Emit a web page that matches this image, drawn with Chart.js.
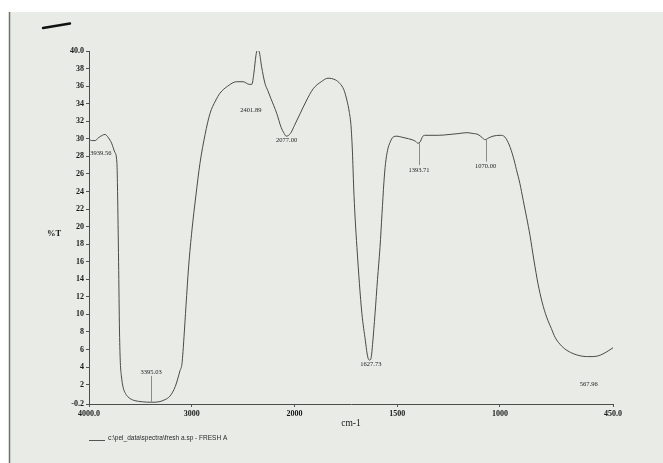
<!DOCTYPE html>
<html>
<head>
<meta charset="utf-8">
<script src="https://cdn.jsdelivr.net/npm/chart.js@4.4.1/dist/chart.umd.min.js"></script>
<style>
    html, body { margin: 0; padding: 0; background: #ffffff; }
    #wrap { position: relative; width: 663px; height: 463px; }
</style>
</head>
<body>
<div id="wrap"><canvas id="spectrum" width="663" height="463"></canvas></div>
<script>
// Spectrum (wavenumber in cm-1, transmittance in %T)
const wavenumbers = [
    4000, 3975, 3940, 3910, 3870, 3845, 3810, 3780, 3750, 3728,
    3722, 3712, 3703, 3695, 3685, 3668, 3645, 3620, 3590, 3560,
    3480, 3395, 3320, 3260, 3212, 3160, 3114, 3095, 3075, 3056,
    3030, 2998, 2960, 2920, 2870, 2822, 2770, 2725, 2650, 2565,
    2500, 2440, 2415, 2395, 2375, 2362, 2343, 2320, 2287, 2260,
    2230, 2173, 2130, 2100, 2081, 2040, 2001, 1972, 1943, 1909,
    1870, 1837, 1800, 1779, 1760, 1745, 1733, 1725, 1718, 1712,
    1705, 1696, 1684, 1672, 1655, 1647, 1640, 1633, 1626, 1620,
    1608, 1596, 1584, 1574, 1565, 1557, 1547, 1535, 1520, 1501,
    1480, 1462, 1428, 1410, 1399, 1390, 1375, 1365, 1300, 1243,
    1200, 1161, 1130, 1107, 1085, 1073, 1055, 1034, 1000, 976,
    955, 935, 920, 903, 887, 870, 854, 835, 815, 795,
    773, 750, 732, 700, 674, 640, 611, 580, 547, 520,
    499, 470, 450
];
const transmittance = [
    30.0, 29.8, 29.8, 30.1, 30.4, 30.5, 30.1, 29.5, 28.5, 27.2,
    24.0, 16.0, 8.0, 4.5, 3.0, 1.7, 1.0, 0.6, 0.35, 0.2,
    0.05, 0.0, 0.05, 0.3, 0.7, 1.8, 3.6, 4.4, 7.5, 11.0,
    15.5, 19.6, 23.5, 27.2, 30.5, 32.9, 34.3, 35.2, 36.0, 36.5,
    36.5, 36.2, 36.2, 37.5, 39.5, 40.1, 39.9, 38.2, 36.3, 35.5,
    34.6, 32.9, 31.3, 30.6, 30.3, 30.6, 31.5, 32.9, 34.3, 35.7,
    36.5, 36.9, 36.7, 36.3, 35.6, 34.4, 33.0, 31.5, 28.5, 24.5,
    21.0, 17.6, 13.5, 10.1, 7.0, 5.6, 4.9, 4.8, 5.2, 6.6,
    10.1, 14.0, 17.6, 21.5, 25.0, 27.2, 28.7, 29.6, 30.2, 30.3,
    30.2, 30.1, 29.9, 29.7, 29.5, 29.6, 30.3, 30.4, 30.4, 30.5,
    30.6, 30.7, 30.6, 30.5, 30.1, 29.9, 30.1, 30.3, 30.4, 30.2,
    29.3, 27.9, 26.5, 24.9, 23.0, 21.0, 19.0, 16.2, 13.5, 11.4,
    9.7, 8.4, 7.4, 6.4, 5.9, 5.5, 5.3, 5.2, 5.2, 5.3,
    5.5, 5.9, 6.2
];

const xTickValues = [4000, 3000, 2000, 1500, 1000, 450];
const xTickLabels = ['4000.0', '3000', '2000', '1500', '1000', '450.0'];
const yTickValues = [-0.2, 2, 4, 6, 8, 10, 12, 14, 16, 18, 20, 22, 24, 26, 28, 30, 32, 34, 36, 38, 40];
const yTickLabels = ['-0.2', '2', '4', '6', '8', '10', '12', '14', '16', '18', '20', '22', '24', '26', '28', '30', '32', '34', '36', '38', '40.0'];

// Peak picks printed on the spectrum
const peakLabels = ['3939.56', '3395.03', '2401.89', '2077.00', '1627.73', '1393.71', '1070.00', '567.96'];
const peakLabelX = [3885, 3395, 2424, 2077, 1628, 1394, 1070, 568];
const peakLabelY = [28.35, 3.45, 33.25, 29.8, 4.35, 26.4, 26.85, 2.1];
const peakMarkFrom = [null, 0.0, null, null, null, 29.5, 29.9, null];
const peakMarkTo = [null, 3.0, null, null, null, 27.0, 27.4, null];

const legendText = 'c:\\pel_data\\spectra\\fresh a.sp - FRESH A';

// The instrument doubles the scale below 2000 cm-1
function toAxis(wn) {
    return wn >= 2000 ? (4000 - wn) / 2 : 1000 + (2000 - wn);
}

Chart.defaults.font.family = "'Liberation Serif', 'DejaVu Serif', serif";
Chart.defaults.color = '#1a1a1a';

const paperPlugin = {
    id: 'paper',
    beforeDraw(chart) {
        const ctx = chart.ctx;
        ctx.save();
        ctx.fillStyle = '#ffffff';
        ctx.fillRect(0, 0, chart.width, chart.height);
        ctx.fillStyle = '#e8ebe6';
        ctx.fillRect(10, 12, chart.width - 10, chart.height - 12);
        // scanner edge on the left
        ctx.strokeStyle = '#6f716c';
        ctx.lineWidth = 1.5;
        ctx.beginPath();
        ctx.moveTo(9.5, 12);
        ctx.lineTo(9.5, chart.height);
        ctx.stroke();
        // pen stroke top left
        ctx.strokeStyle = '#111111';
        ctx.lineWidth = 2.4;
        ctx.lineCap = 'round';
        ctx.beginPath();
        ctx.moveTo(43, 28);
        ctx.lineTo(70, 23.5);
        ctx.stroke();
        ctx.restore();
    }
};

const annotatePlugin = {
    id: 'annotate',
    afterDatasetsDraw(chart) {
        const ctx = chart.ctx;
        const xs = chart.scales.x;
        const ys = chart.scales.y;
        ctx.save();

        // vertical peak markers
        ctx.strokeStyle = '#8a8c88';
        ctx.lineWidth = 1;
        peakLabels.forEach((lab, i) => {
            if (peakMarkFrom[i] === null) return;
            const px = Math.round(xs.getPixelForValue(toAxis(peakLabelX[i]))) + 0.5;
            ctx.beginPath();
            ctx.moveTo(px, ys.getPixelForValue(peakMarkFrom[i]));
            ctx.lineTo(px, ys.getPixelForValue(peakMarkTo[i]));
            ctx.stroke();
        });

        // peak labels
        ctx.fillStyle = '#1e1e1e';
        ctx.font = "6.5px 'Liberation Serif', serif";
        ctx.textAlign = 'center';
        ctx.textBaseline = 'middle';
        peakLabels.forEach((lab, i) => {
            ctx.fillText(lab, xs.getPixelForValue(toAxis(peakLabelX[i])), ys.getPixelForValue(peakLabelY[i]));
        });

        // %T axis name, printed horizontally
        ctx.font = "bold 8.5px 'Liberation Serif', serif";
        ctx.fillStyle = '#1a1a1a';
        ctx.fillText('%T', 54, ys.getPixelForValue(19.2));

        // legend line + file name
        const lx = chart.chartArea.left;
        ctx.strokeStyle = '#555555';
        ctx.beginPath();
        ctx.moveTo(lx, 440.5);
        ctx.lineTo(lx + 16, 440.5);
        ctx.stroke();
        ctx.font = "6.5px 'Liberation Sans', sans-serif";
        ctx.textAlign = 'left';
        ctx.textBaseline = 'alphabetic';
        ctx.fillStyle = '#2a2a2a';
        ctx.fillText(chart.data.datasets[0].label, lx + 19, 440);
        ctx.restore();
    }
};

new Chart(document.getElementById('spectrum'), {
    type: 'line',
    data: {
        datasets: [{
            label: legendText,
            data: wavenumbers.map((wn, i) => ({ x: toAxis(wn), y: transmittance[i] })),
            borderColor: '#4a4b48',
            borderWidth: 1,
            pointRadius: 0,
            cubicInterpolationMode: 'monotone',
            fill: false
        }]
    },
    options: {
        responsive: false,
        animation: false,
        layout: { padding: { left: 0, right: 50, top: 51, bottom: 0 } },
        plugins: {
            legend: { display: false },
            tooltip: { enabled: false }
        },
        scales: {
            x: {
                type: 'linear',
                min: 0,
                max: toAxis(450),
                afterBuildTicks: (scale) => {
                    scale.ticks = xTickValues.map(v => ({ value: toAxis(v) }));
                },
                afterFit: (scale) => { scale.height = 59; },
                ticks: {
                    autoSkip: false,
                    maxRotation: 0,
                    padding: 2,
                    font: { size: 8, weight: 'bold' },
                    color: '#1a1a1a',
                    callback: (value, index) => xTickLabels[index]
                },
                grid: { drawOnChartArea: false, drawTicks: true, tickLength: 3, color: '#555555' },
                border: { display: true, color: '#4d4e4b', width: 1 },
                title: {
                    display: true,
                    text: 'cm-1',
                    font: { size: 9.5 },
                    color: '#1a1a1a',
                    padding: { top: 0, bottom: 34 }
                }
            },
            y: {
                min: -0.2,
                max: 40,
                afterBuildTicks: (scale) => {
                    scale.ticks = yTickValues.map(v => ({ value: v }));
                },
                afterFit: (scale) => { scale.width = 89; },
                ticks: {
                    autoSkip: false,
                    padding: 2,
                    font: { size: 8, weight: 'bold' },
                    color: '#1a1a1a',
                    callback: (value, index) => yTickLabels[index]
                },
                grid: { drawOnChartArea: false, drawTicks: true, tickLength: 3, color: '#555555' },
                border: { display: true, color: '#4d4e4b', width: 1 }
            }
        }
    },
    plugins: [paperPlugin, annotatePlugin]
});
</script>
</body>
</html>
